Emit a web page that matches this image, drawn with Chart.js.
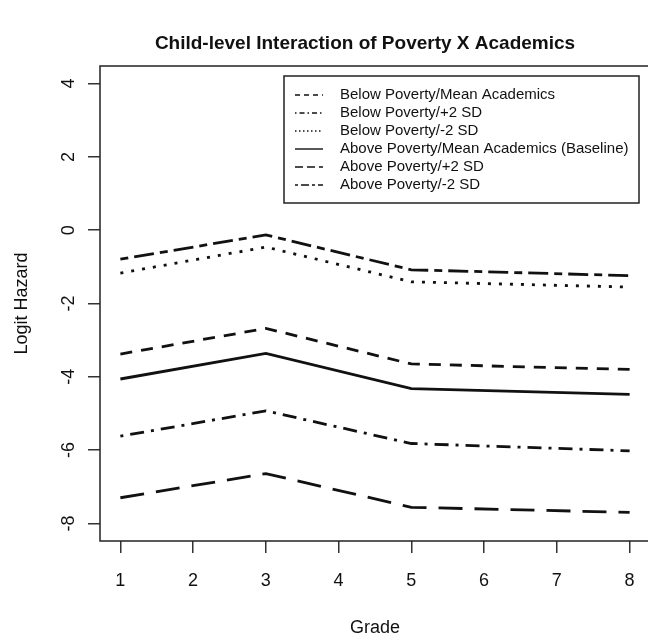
<!DOCTYPE html>
<html>
<head>
<meta charset="utf-8">
<script src="https://cdn.jsdelivr.net/npm/chart.js@4.4.1/dist/chart.umd.min.js"></script>
<style>
  html, body { margin: 0; padding: 0; background: #ffffff; overflow: hidden; }
  #wrap { width: 660px; height: 640px; position: relative; }
</style>
</head>
<body>
<div id="wrap"><canvas id="c"></canvas></div>
<script>
// ---- data ----
const grades = [1, 3, 5, 8];
const xTicks = [1, 2, 3, 4, 5, 6, 7, 8];
const yTicks = [-8, -6, -4, -2, 0, 2, 4];
const seriesLabels = [
  "Below Poverty/Mean Academics",
  "Below Poverty/+2 SD",
  "Below Poverty/-2 SD",
  "Above Poverty/Mean Academics (Baseline)",
  "Above Poverty/+2 SD",
  "Above Poverty/-2 SD"
];
const belowMean   = [-3.38, -2.68, -3.65, -3.80];
const belowPlus2  = [-5.62, -4.93, -5.82, -6.02];
const belowMinus2 = [-1.17, -0.46, -1.41, -1.55];
const aboveMean   = [-4.06, -3.36, -4.32, -4.48];
const abovePlus2  = [-7.30, -6.64, -7.56, -7.70];
const aboveMinus2 = [-0.79, -0.13, -1.08, -1.24];
const titleText = "Child-level Interaction of Poverty X Academics";
const xTitle = "Grade";
const yTitle = "Logit Hazard";

// ---- styles ----
const seriesValues = [belowMean, belowPlus2, belowMinus2, aboveMean, abovePlus2, aboveMinus2];
const plotDash = [[12, 9], [3, 7, 14, 7], [3, 8], [], [24, 12], [8, 6, 20, 6]];
const legendDash = [[5, 4], [1.5, 3, 5, 3], [1.5, 2.5], [], [8, 4], [3, 3, 8, 3]];
const FONT = "'Liberation Sans', Arial, Helvetica, sans-serif";
const INK = "#111111";

const datasets = seriesValues.map((vals, i) => ({
  label: seriesLabels[i],
  data: grades.map((g, j) => ({ x: g, y: vals[j] })),
  borderColor: INK,
  backgroundColor: INK,
  borderWidth: 2.8,
  borderDash: plotDash[i],
  borderCapStyle: 'butt',
  pointRadius: 0,
  tension: 0,
  fill: false
}));

const decor = {
  id: 'decor',
  afterDraw(chart) {
    const ctx = chart.ctx;
    const a = chart.chartArea;
    const xs = chart.scales.x, ys = chart.scales.y;
    ctx.save();
    // plot box
    ctx.strokeStyle = "#222";
    ctx.lineWidth = 1.5;
    ctx.setLineDash([]);
    ctx.strokeRect(a.left, a.top, a.right - a.left, a.bottom - a.top);
    // title
    ctx.fillStyle = INK;
    ctx.font = "bold 19px " + FONT;
    ctx.textAlign = 'center';
    ctx.textBaseline = 'middle';
    ctx.fillText(titleText, 365, 44);
    // x tick labels
    ctx.font = "18px " + FONT;
    xTicks.forEach(v => ctx.fillText(String(v), xs.getPixelForValue(v), 581));
    // x title
    ctx.fillText(xTitle, (a.left + a.right) / 2, 628);
    // y tick labels (rotated)
    yTicks.forEach(v => {
      ctx.save();
      ctx.translate(69, ys.getPixelForValue(v));
      ctx.rotate(-Math.PI / 2);
      ctx.fillText(String(v), 0, 0);
      ctx.restore();
    });
    // y title
    ctx.save();
    ctx.translate(22, (a.top + a.bottom) / 2);
    ctx.rotate(-Math.PI / 2);
    ctx.fillText(yTitle, 0, 0);
    ctx.restore();
    // legend
    const lx = 284, ly = 76, lw = 355, lh = 127;
    ctx.fillStyle = "#ffffff";
    ctx.fillRect(lx, ly, lw, lh);
    ctx.strokeStyle = "#222";
    ctx.lineWidth = 1.5;
    ctx.strokeRect(lx, ly, lw, lh);
    ctx.font = "15px " + FONT;
    ctx.textAlign = 'left';
    ctx.fillStyle = INK;
    seriesLabels.forEach((lab, i) => {
      const y = 95 + i * 18;
      ctx.beginPath();
      ctx.setLineDash(legendDash[i]);
      ctx.lineWidth = 1.4;
      ctx.strokeStyle = INK;
      ctx.moveTo(295, y);
      ctx.lineTo(323, y);
      ctx.stroke();
      ctx.setLineDash([]);
      ctx.fillText(lab, 340, y);
    });
    ctx.restore();
  }
};

new Chart(document.getElementById('c'), {
  type: 'line',
  data: { datasets },
  options: {
    responsive: true,
    maintainAspectRatio: false,
    animation: false,
    layout: { padding: { top: 66, right: 10, bottom: 0, left: 0 } },
    plugins: { legend: { display: false }, title: { display: false }, tooltip: { enabled: false } },
    scales: {
      x: {
        type: 'linear',
        min: 0.72, max: 8.28,
        afterBuildTicks: s => { s.ticks = xTicks.map(v => ({ value: v })); },
        afterFit: s => { s.height = 99; },
        ticks: { display: false },
        border: { display: false },
        grid: { drawOnChartArea: false, drawTicks: true, tickLength: 12, color: "#333", lineWidth: 1.5 }
      },
      y: {
        type: 'linear',
        min: -8.48, max: 4.48,
        afterBuildTicks: s => { s.ticks = yTicks.map(v => ({ value: v })); },
        afterFit: s => { s.width = 100; },
        ticks: { display: false },
        border: { display: false },
        grid: { drawOnChartArea: false, drawTicks: true, tickLength: 12, color: "#333", lineWidth: 1.5 }
      }
    }
  },
  plugins: [decor]
});
</script>
</body>
</html>
